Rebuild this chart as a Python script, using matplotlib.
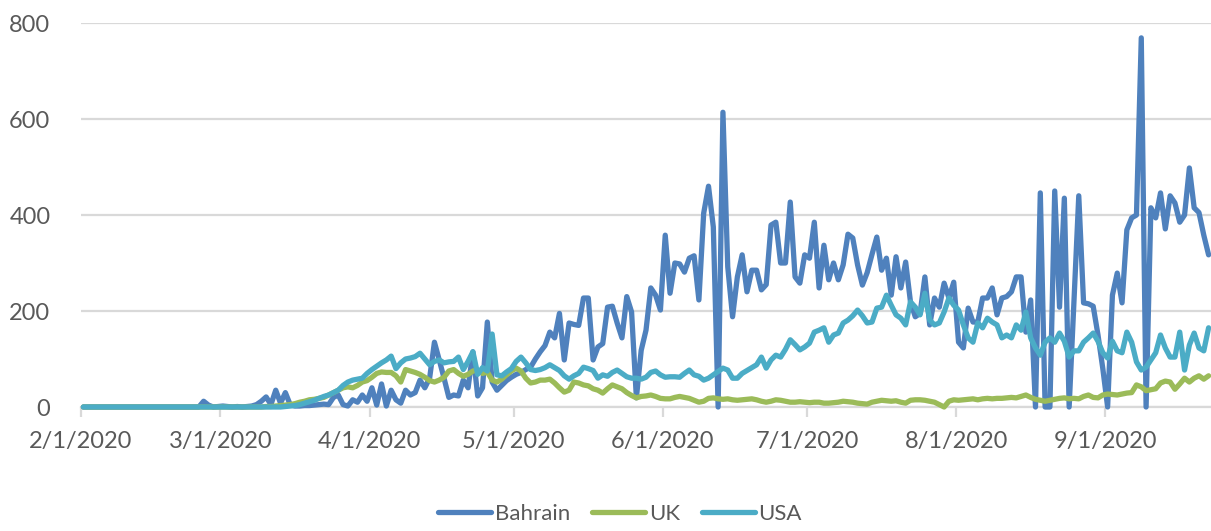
import numpy as np
import matplotlib
matplotlib.use("Agg")
import matplotlib.pyplot as plt
import matplotlib.dates as mdates
from matplotlib.ticker import FuncFormatter

# daily values, 2/1/2020 .. 9/22/2020
bahrain_feb = [0, 0, 0, 0, 0, 0, 0, 0, 0, 0, 0, 0, 0, 0, 0, 0, 0, 0, 0, 0, 0, 0, 0, 0, 0, 12, 4, 0, 1]
bahrain_mar = [2, 1, 0, 1, 0, 1, 2, 5, 12, 21, 5, 35, 8, 30, 5, 2, 2, 3, 3, 4, 5, 6, 5, 20, 25, 5, 2, 15, 10, 25, 12]
bahrain_apr = [40, 4, 48, 2, 35, 15, 8, 35, 25, 30, 56, 40, 60, 135, 98, 60, 20, 25, 23, 56, 40, 115, 23, 40, 177, 52, 35, 45, 55, 62]
bahrain_may = [68, 72, 78, 83, 100, 115, 128, 156, 144, 195, 98, 175, 172, 170, 227, 227, 98, 125, 132, 208, 210, 175, 144, 230, 198, 19, 118, 160, 248, 233, 202]
bahrain_jun = [358, 237, 300, 298, 281, 310, 315, 223, 404, 460, 375, 0, 614, 292, 188, 271, 317, 240, 285, 285, 244, 255, 379, 385, 300, 300, 427, 271, 258, 317]
bahrain_jul = [310, 385, 248, 337, 265, 300, 265, 296, 360, 352, 296, 254, 280, 318, 354, 285, 310, 233, 313, 248, 302, 219, 188, 195, 271, 171, 227, 208, 258, 227, 260]
bahrain_aug = [135, 123, 206, 177, 177, 227, 227, 248, 192, 227, 230, 240, 271, 271, 156, 223, 0, 446, 0, 0, 450, 208, 435, 0, 220, 440, 217, 215, 210, 150, 80]
bahrain_sep = [0, 233, 279, 217, 369, 394, 400, 769, 0, 415, 394, 446, 371, 440, 425, 385, 400, 498, 415, 405, 358, 317]

uk_feb = [0, 0, 0, 0, 0, 0, 0, 0, 0, 0, 0, 0, 0, 0, 0, 0, 0, 0, 0, 0, 0, 0, 0, 0, 0, 0, 0, 0, 0]
uk_mar = [0, 0, 0, 0, 0, 0, 0, 0, 0, 1, 1, 2, 3, 4, 5, 7, 10, 12, 15, 16, 18, 20, 25, 30, 35, 40, 42, 40, 45, 52, 55]
uk_apr = [62, 70, 73, 72, 72, 65, 52, 78, 75, 72, 68, 62, 55, 52, 56, 62, 75, 78, 70, 64, 68, 75, 77, 70, 73, 56, 52, 58, 67, 75]
uk_may = [81, 75, 60, 50, 52, 56, 56, 58, 50, 40, 31, 35, 52, 50, 46, 44, 38, 35, 29, 38, 46, 42, 38, 30, 24, 19, 22, 23, 25, 22, 18]
uk_jun = [17, 17, 20, 22, 20, 18, 14, 10, 12, 18, 19, 17, 16, 17, 15, 14, 15, 16, 17, 15, 12, 10, 12, 15, 14, 12, 10, 10, 11, 10]
uk_jul = [9, 10, 10, 8, 8, 9, 10, 12, 11, 10, 8, 7, 6, 10, 12, 14, 13, 12, 13, 10, 8, 14, 15, 15, 14, 12, 10, 5, 0, 12, 15]
uk_aug = [14, 15, 16, 17, 15, 17, 18, 17, 18, 18, 19, 20, 19, 22, 25, 20, 16, 14, 12, 14, 16, 18, 19, 17, 18, 17, 22, 25, 20, 19, 25]
uk_sep = [27, 26, 25, 27, 29, 30, 46, 42, 34, 36, 38, 50, 54, 52, 37, 48, 60, 52, 60, 65, 58, 65]

usa_feb = [0, 0, 0, 0, 0, 0, 0, 0, 0, 0, 0, 0, 0, 0, 0, 0, 0, 0, 0, 0, 0, 0, 0, 0, 0, 0, 0, 0, 0]
usa_mar = [0, 0, 0, 0, 0, 0, 0, 0, 0, 0, 0, 0, 0, 1, 2, 3, 5, 8, 11, 14, 18, 22, 25, 30, 35, 45, 52, 56, 58, 60, 70]
usa_apr = [78, 85, 92, 98, 106, 80, 92, 100, 102, 105, 112, 100, 88, 95, 98, 92, 94, 95, 104, 78, 95, 115, 68, 82, 75, 152, 67, 65, 73, 80]
usa_may = [95, 104, 92, 78, 76, 78, 82, 88, 82, 76, 65, 58, 65, 70, 83, 80, 76, 60, 67, 64, 72, 77, 70, 63, 60, 60, 58, 62, 72, 75, 67]
usa_jun = [62, 63, 63, 62, 70, 77, 67, 64, 56, 60, 67, 74, 81, 77, 60, 60, 70, 76, 82, 88, 104, 81, 98, 108, 104, 120, 140, 130, 119, 125]
usa_jul = [133, 156, 160, 165, 135, 150, 154, 175, 181, 190, 202, 190, 175, 177, 206, 208, 233, 212, 192, 185, 171, 219, 208, 192, 237, 181, 171, 175, 198, 227, 212]
usa_aug = [202, 171, 144, 135, 175, 165, 185, 177, 171, 144, 150, 144, 171, 160, 198, 144, 123, 108, 135, 144, 135, 154, 137, 104, 117, 117, 135, 144, 154, 137, 113]
usa_sep = [102, 137, 117, 113, 156, 135, 94, 77, 83, 98, 113, 150, 123, 104, 104, 156, 77, 129, 154, 123, 117, 165]

bahrain = bahrain_feb + bahrain_mar + bahrain_apr + bahrain_may + bahrain_jun + bahrain_jul + bahrain_aug + bahrain_sep
uk = uk_feb + uk_mar + uk_apr + uk_may + uk_jun + uk_jul + uk_aug + uk_sep
usa = usa_feb + usa_mar + usa_apr + usa_may + usa_jun + usa_jul + usa_aug + usa_sep

series_names = ["Bahrain", "UK", "USA"]
colors = ["#4F81BD", "#9BBB59", "#4BACC6"]

start = np.datetime64("2020-02-01")
days = start + np.arange(len(bahrain)).astype("timedelta64[D]")
# excel puts each day in the middle of its slot
xs = days.astype("datetime64[h]") + np.timedelta64(12, "h")
end = days[-1] + np.timedelta64(1, "D")

plt.rcParams["font.family"] = ["Lato", "DejaVu Sans"]
txt = "#595959"
grid = "#D9D9D9"

fig = plt.figure(figsize=(12.11, 5.31), dpi=100)
ax = fig.add_axes([81 / 1211, 124 / 531, 1130 / 1211, 384 / 531])

for vals, name, c in zip([bahrain, uk, usa], series_names, colors):
    ax.plot(xs, vals, color=c, lw=3.8, label=name, solid_joinstyle="round",
            solid_capstyle="round", clip_on=False, zorder=3)

ax.set_xlim(start, end)
ax.set_ylim(0, 800)
ax.set_yticks([0, 200, 400, 600, 800])
ax.yaxis.grid(True, color=grid, lw=1.6)
ax.set_axisbelow(True)

ax.xaxis.set_major_locator(mdates.MonthLocator())
ax.xaxis.set_major_formatter(FuncFormatter(
    lambda v, p: "{d.month}/{d.day}/{d.year}".format(d=mdates.num2date(v))))

for s in ["top", "right", "left"]:
    ax.spines[s].set_visible(False)
ax.spines["bottom"].set_color(grid)
ax.spines["bottom"].set_linewidth(1.6)
ax.tick_params(axis="x", colors=grid, length=7, width=1.6, pad=10,
               labelcolor=txt, labelsize=17)
ax.tick_params(axis="y", length=0, pad=22, labelcolor=txt, labelsize=17)

fig.legend(loc="center", bbox_to_anchor=(620 / 1211, 17 / 531), ncol=3,
           frameon=False, fontsize=16, handlelength=2.4, handletextpad=0.15,
           columnspacing=1.0, labelcolor=txt)

fig.savefig("out.png", dpi=100)
